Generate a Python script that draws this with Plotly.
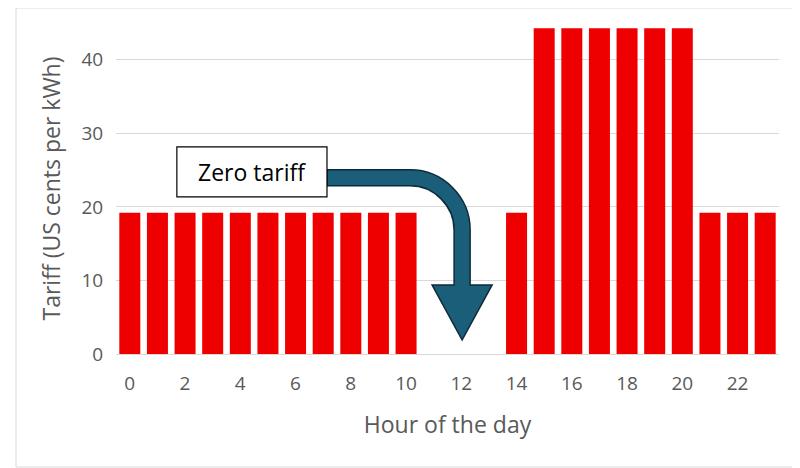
import plotly.graph_objects as go

hours = list(range(24))
tariff = [19.2] * 11 + [0, 0, 0] + [19.2] + [44.3] * 6 + [19.2] * 3
tick_vals = list(range(0, 24, 2))
y_ticks = [0, 10, 20, 30, 40]

fig = go.Figure(go.Bar(x=hours, y=tariff, marker_color='#ee0000', marker_line_width=0))

# pixel -> data helpers for the annotation arrow
def px(x):
    return (x - 130) / 27.6

def py(y):
    return (354 - y) / 7.35

def P(x, y):
    return f"{px(x):.4f},{py(y):.4f}"

path = ("M " + P(327, 170) + " L " + P(410, 170)
        + " C " + P(443, 170) + " " + P(470, 197) + " " + P(470, 230)
        + " L " + P(470, 285) + " L " + P(492, 285) + " L " + P(462, 340)
        + " L " + P(432, 285) + " L " + P(454, 285) + " L " + P(454, 230)
        + " C " + P(454, 206) + " " + P(434, 186) + " " + P(410, 186)
        + " L " + P(327, 186) + " Z")
fig.add_shape(type='path', path=path, xref='x', yref='y',
              fillcolor='#1b5e7a', line=dict(color='#0d2b3a', width=1.5))
fig.add_shape(type='rect', xref='x', yref='y', x0=px(177), x1=px(327), y0=py(197), y1=py(147),
              fillcolor='white', line=dict(color='black', width=1.2))
fig.add_annotation(x=(px(177) + px(327)) / 2, y=(py(197) + py(147)) / 2, text='Zero tariff',
                   showarrow=False, font=dict(size=23, color='black'))

fig.update_layout(
    width=800, height=468, plot_bgcolor='white', paper_bgcolor='white',
    margin=dict(l=108, r=29, t=15, b=122), bargap=0.24, showlegend=False,
    font=dict(family='Open Sans, Liberation Sans, sans-serif', color='#595959'),
    xaxis=dict(range=[-0.5, 23.5], tickvals=tick_vals, tickfont=dict(size=19),
               showgrid=False, showline=True, linecolor='#d9d9d9',
               ticks='outside', ticklen=12, tickcolor='rgba(0,0,0,0)',
               title=dict(text='Hour of the day', font=dict(size=23), standoff=22)),
    yaxis=dict(range=[0, 45], tickvals=y_ticks, tickfont=dict(size=19),
               gridcolor='#d9d9d9', zeroline=False,
               ticks='outside', ticklen=8, tickcolor='rgba(0,0,0,0)',
               title=dict(text='Tariff (US cents per kWh)', font=dict(size=23), standoff=14)),
)
fig.add_shape(type='rect', xref='paper', yref='paper', x0=-100/663, x1=1+20/663, y0=-113/331, y1=1+15/331,
              line=dict(color='#d9d9d9', width=1))
fig.write_html('out.html')
